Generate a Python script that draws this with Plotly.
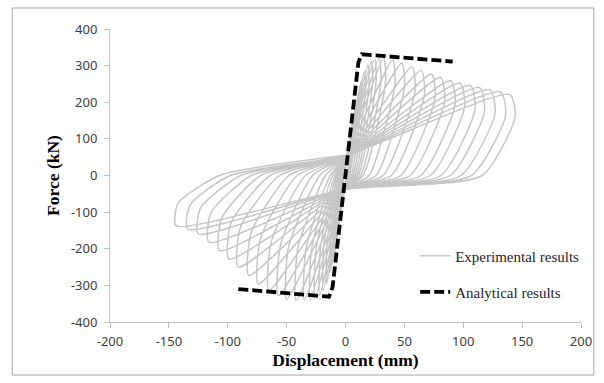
import plotly.graph_objects as go

# ---------------- data ----------------
# Experimental hysteresis: one entry per cycle
pos_top_d = [4.6, 7.5, 10.4, 13.3, 16.2, 19, 22, 24.8, 28.6, 32.4, 40, 47.8, 56.5, 64.3, 73, 80.7, 89.5, 97.3, 106, 113.8, 122.6, 131.5, 139.5]
pos_top_f = [100, 165, 220, 258, 285, 302, 312, 318, 320, 322, 316, 307, 297, 287, 277, 268, 259, 252, 246, 240, 234, 228, 221]
pos_max_d = [5, 8, 11, 14, 17, 20, 23, 26, 30, 34, 42, 50, 59, 67, 76, 84, 93, 101, 110, 118, 127, 136, 144]
pos_max_f = [90, 145, 190, 220, 240, 250, 255, 258, 255, 255, 250, 240, 230, 220, 210, 200, 192, 186, 180, 175, 170, 165, 160]
pos_zero_d = [1.5, 2.5, 3.5, 5, 6.5, 8, 9.5, 11, 13, 15, 20, 26, 32, 39, 47, 55, 64, 72, 81, 89, 98, 107, 116]

neg_bot_d = [-4, -7, -10, -13, -16, -19, -22, -26, -30, -35, -42, -50, -57, -65, -74, -82, -91, -99, -107, -116, -125, -134, -144]
neg_bot_f = [-100, -170, -225, -265, -295, -315, -328, -335, -338, -340, -342, -338, -328, -314, -296, -273, -250, -228, -205, -182, -159, -146, -137]
neg_sh_d = [-3.8, -6.7, -9.6, -12.5, -15.4, -18.3, -21.2, -25, -28.8, -33.6, -40.5, -48.3, -55.2, -63, -72, -80, -89, -97, -105, -114, -123, -132, -142]
neg_sh_f = [-60, -100, -135, -160, -175, -185, -195, -200, -200, -200, -200, -195, -190, -180, -170, -155, -140, -128, -115, -100, -88, -80, -75]
neg_zero_d = [-1.2, -2.2, -3.2, -4.2, -5.3, -6.5, -7.7, -9, -11, -13, -17, -22, -28, -34, -41, -48, -56, -64, -72, -80, -89, -98, -107]

pinch_up = [15, 25, 32, 38, 42, 45, 47, 48, 50, 50, 51, 52, 52, 53, 53, 54, 54, 54, 55, 55, 55, 55, 55]
pinch_dn = [-12, -20, -25, -30, -33, -35, -36, -37, -38, -38, -38, -38, -38, -38, -38, -38, -38, -38, -38, -38, -38, -38, -38]

# Analytical envelope
ana_disp = [-91, -14, -11, 11, 14, 91]
ana_force = [-310, -331, -305, 310, 331, 311]

x_ticks = [-200, -150, -100, -50, 0, 50, 100, 150, 200]
x_tick_text = ["-200", "-150", "-100", "-50", "0", "50", "100", "150", "200"]
y_ticks = [-400, -300, -200, -100, 0, 100, 200, 300, 400]
y_tick_text = ["-400", "-300", "-200", "-100", "0", "100", "200", "300", "400"]

# ---------------- build hysteresis path ----------------
exp_x, exp_y = [0], [0]
for i in range(len(pos_max_d)):
    exp_x += [0, pos_top_d[i], pos_max_d[i], pos_zero_d[i], 0,
              neg_bot_d[i], neg_sh_d[i], neg_zero_d[i]]
    exp_y += [pinch_up[i], pos_top_f[i], pos_max_f[i], 0, pinch_dn[i],
              neg_bot_f[i], neg_sh_f[i], 0]
exp_x.append(0)
exp_y.append(pinch_up[-1])

fig = go.Figure()
fig.add_trace(go.Scatter(
    x=exp_x, y=exp_y, mode="lines", name="Experimental results",
    line=dict(color="#c6c6c6", width=1.5, shape="spline", smoothing=0.6),
    legend="legend",
))
fig.add_trace(go.Scatter(
    x=ana_disp, y=ana_force, mode="lines", name="Analytical results",
    line=dict(color="black", width=3.8, dash="10px,4px"),
    legend="legend2",
))

serif = "Liberation Serif, Times New Roman, serif"
tickfont = dict(family="Noto Sans, sans-serif", size=13, color="#404040")
axis_common = dict(
    showgrid=False, zeroline=False, showline=True, linecolor="#bfbfbf",
    linewidth=1, ticks="outside", ticklen=5, tickcolor="#bfbfbf",
    tickfont=tickfont,
)

fig.update_layout(
    width=604, height=383,
    margin=dict(l=110, r=17, t=29, b=61),
    paper_bgcolor="white", plot_bgcolor="white",
    xaxis=dict(range=[-200, 200], tickvals=x_ticks, ticktext=x_tick_text,
               ticklabelstandoff=2,
               title=dict(text="Displacement (mm)", standoff=2,
                          font=dict(family=serif, size=17.5, color="black", weight="bold")),
               **axis_common),
    yaxis=dict(range=[-400, 400], tickvals=y_ticks, ticktext=y_tick_text,
               ticklabelstandoff=4,
               title=dict(text="Force (kN)", standoff=6,
                          font=dict(family=serif, size=17.5, color="black", weight="bold")),
               **axis_common),
    legend=dict(x=0.648, y=0.225, xanchor="left", yanchor="middle",
                bgcolor="rgba(0,0,0,0)", itemwidth=30,
                font=dict(family=serif, size=15, color="#262626")),
    legend2=dict(x=0.648, y=0.102, xanchor="left", yanchor="middle",
                 bgcolor="rgba(0,0,0,0)", itemwidth=30,
                 font=dict(family=serif, size=15, color="#262626")),
    showlegend=True,
    shapes=[dict(type="rect", xref="paper", yref="paper",
                 x0=-0.2075, x1=1.0273, y0=-0.181, y1=1.0717,
                 line=dict(color="#a6a6a6", width=1), fillcolor="rgba(0,0,0,0)",
                 layer="below")],
)

fig.write_html("out.html")
